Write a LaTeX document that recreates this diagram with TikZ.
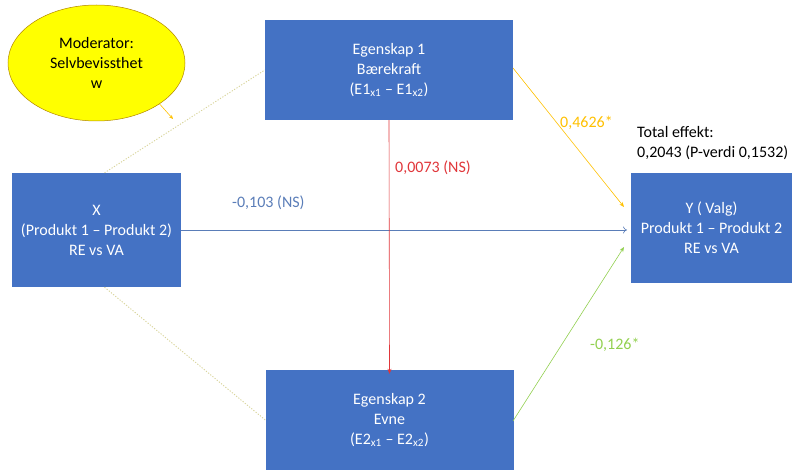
\documentclass[tikz,border=0pt]{standalone}
\usepackage{fontspec}
\setmainfont{Carlito}
\usetikzlibrary{arrows.meta,shapes.geometric}
\definecolor{boxblue}{HTML}{4472C4}
\definecolor{modyellow}{HTML}{FFFF00}
\definecolor{gold}{HTML}{FFC000}
\definecolor{leaf}{HTML}{92D050}
\definecolor{redline}{HTML}{E0363A}
\definecolor{blueline}{HTML}{5A7DB8}
\definecolor{dotline}{HTML}{D8D49A}
\begin{document}
\begin{tikzpicture}[x=1pt,y=-1pt,
  every node/.style={font=\fontsize{16}{20}\selectfont},
  var/.style={draw=none, fill=boxblue, text=white, align=center, inner sep=0pt},
  path/.style={line width=0.6pt},
  tipper/.style={-{Stealth[length=5pt,width=4pt]}},
  opentip/.style={-{To[length=4pt,width=7pt]}},
  dotted link/.style={draw=dotline, line width=0.9pt, dash pattern=on 1.2pt off 1.6pt}]
\useasboundingbox (0,0) rectangle (794,470);

% variable boxes
\node[var, minimum width=248pt, minimum height=100pt] (e1) at (389,70)
  {Egenskap 1\\Bærekraft\\(E1\textsubscript{x1} – E1\textsubscript{x2})};
\node[var, minimum width=248pt, minimum height=100pt] (e2) at (389.5,420)
  {Egenskap 2\\Evne\\(E2\textsubscript{x1} – E2\textsubscript{x2})};
\node[var, minimum width=169pt, minimum height=114pt] (x) at (96.5,230)
  {X\\(Produkt 1 – Produkt 2)\\RE vs VA};
\node[var, minimum width=161pt, minimum height=110pt] (y) at (711.5,228)
  {Y ( Valg)\\Produkt 1 – Produkt 2\\RE vs VA};

% moderator
\node[ellipse, draw=gold!70!black, line width=0.5pt, fill=modyellow,
  minimum width=177pt, minimum height=116pt, align=center, inner sep=0pt] (mod) at (96.5,63)
  {Moderator:\\Selvbevissthet\\w};
\coordinate (modend) at (173,119);
\draw[draw=gold, line width=0.6pt, -{Stealth[length=4pt,width=3.5pt]}] (mod.-33) -- (modend);

% dotted moderation links
\draw[dotted link] ([xshift=8pt]x.north) -- (e1.west);
\draw[dotted link] ([xshift=8pt]x.south) -- (e2.west);

% paths
\coordinate (ytop) at (624,207);
\coordinate (ymid) at (627,230);
\coordinate (ybot) at (624,247);
\coordinate (e1out) at (513,68);
\coordinate (e2out) at (513,421);
\draw[draw=gold, path, tipper] (e1out) -- (ytop);
\draw[draw=leaf, path, tipper] (e2out) -- (ybot);
\draw[draw=blueline, path, opentip] (x.east |- 0,230) -- (ymid);
\draw[draw=redline, path, tipper] (e1.south) -- ([yshift=-4pt]e2.north);

% path labels
\node[text=gold, anchor=west, inner sep=0pt] (la) at (560,123) {0,4626*};
\node[text=blueline, anchor=west, inner sep=0pt] (lb) at (232,203) {-0,103 (NS)};
\node[text=redline, anchor=west, inner sep=0pt] (lc) at (395,168) {0,0073 (NS)};
\node[text=leaf, anchor=west, inner sep=0pt] (ld) at (590,345) {-0,126*};
\node[anchor=west, align=left, inner sep=0pt] (tot) at (637,143)
  {Total effekt:\\0,2043 (P-verdi 0,1532)};
\end{tikzpicture}
\end{document}
